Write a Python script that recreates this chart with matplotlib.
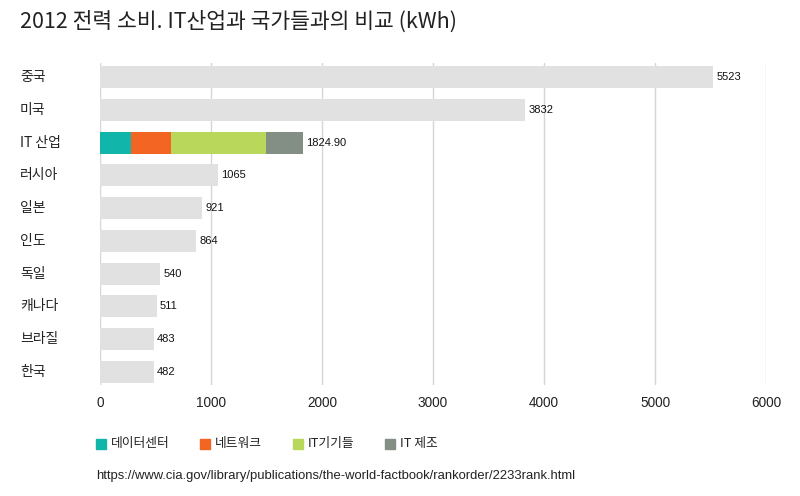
import matplotlib.pyplot as plt
from matplotlib.patches import Rectangle
from matplotlib.transforms import blended_transform_factory

plt.rcParams['font.family'] = ['Noto Sans CJK KR', 'DejaVu Sans']
latin = ['Liberation Sans', 'Noto Sans CJK KR']

# Data
countries = ["중국", "미국", "IT 산업", "러시아", "일본", "인도", "독일", "캐나다", "브라질", "한국"]
values = [5523, 3832, 1824.90, 1065, 921, 864, 540, 511, 483, 482]
it_parts = ["데이터센터", "네트워크", "IT기기들", "IT 제조"]
it_values = [279, 358, 858, 329.9]
it_colors = ["#12b5aa", "#f26522", "#b9d75a", "#838f85"]
xticks = [0, 1000, 2000, 3000, 4000, 5000, 6000]

fig = plt.figure(figsize=(8, 4.96), dpi=100)
ax = fig.add_axes([0.125, 0.224, 0.8325, 0.649])

it_idx = countries.index("IT 산업")
for i, (name, v) in enumerate(zip(countries, values)):
    if i == it_idx:
        left = 0
        for part, pv, c in zip(it_parts, it_values, it_colors):
            ax.barh(i, pv, left=left, height=0.67, color=c, zorder=2)
            left += pv
        label = f"{v:.2f}"
    else:
        ax.barh(i, v, height=0.67, color="#e1e1e1", zorder=2)
        label = f"{v:g}"
    ax.text(v + 30, i, label, va="center", ha="left", fontsize=8, color="#111111", family=latin)

ax.set_xlim(0, 6000)
ax.set_ylim(9.4, -0.43)
ax.set_xticks(xticks)
ax.set_xticklabels([str(t) for t in xticks], fontsize=9.8, color="#222222", family=latin)
ax.set_yticks([])
ax.tick_params(axis="x", length=0, pad=8)
ax.grid(axis="x", color="#d6d6d6", linewidth=1, zorder=0)
for s in ax.spines.values():
    s.set_visible(False)

# Category labels on the left
trans = blended_transform_factory(fig.transFigure, ax.transData)
for i, name in enumerate(countries):
    ax.text(20 / 800, i, name, transform=trans, va="center", ha="left", fontsize=10, color="#222222")

# Title
fig.text(20 / 800, 1 - 22 / 496, "2012 전력 소비. IT산업과 국가들과의 비교 (kWh)", fontsize=15.5,
         va="center", ha="left", color="#222222")

# Legend
leg_x = [96, 200, 293, 385]
for lx, part, c in zip(leg_x, it_parts, it_colors):
    fig.patches.append(Rectangle((lx / 800, 1 - 449 / 496), 10 / 800, 10 / 496,
                                 transform=fig.transFigure, color=c))
    fig.text((lx + 15) / 800, 1 - 444 / 496, part, fontsize=9.2, va="center", ha="left", color="#222222")

# Source
fig.text(96 / 800, 1 - 476 / 496, "https://www.cia.gov/library/publications/the-world-factbook/rankorder/2233rank.html",
         fontsize=9.4, va="center", ha="left", color="#222222", family=latin)

plt.savefig("out.png", dpi=100)
